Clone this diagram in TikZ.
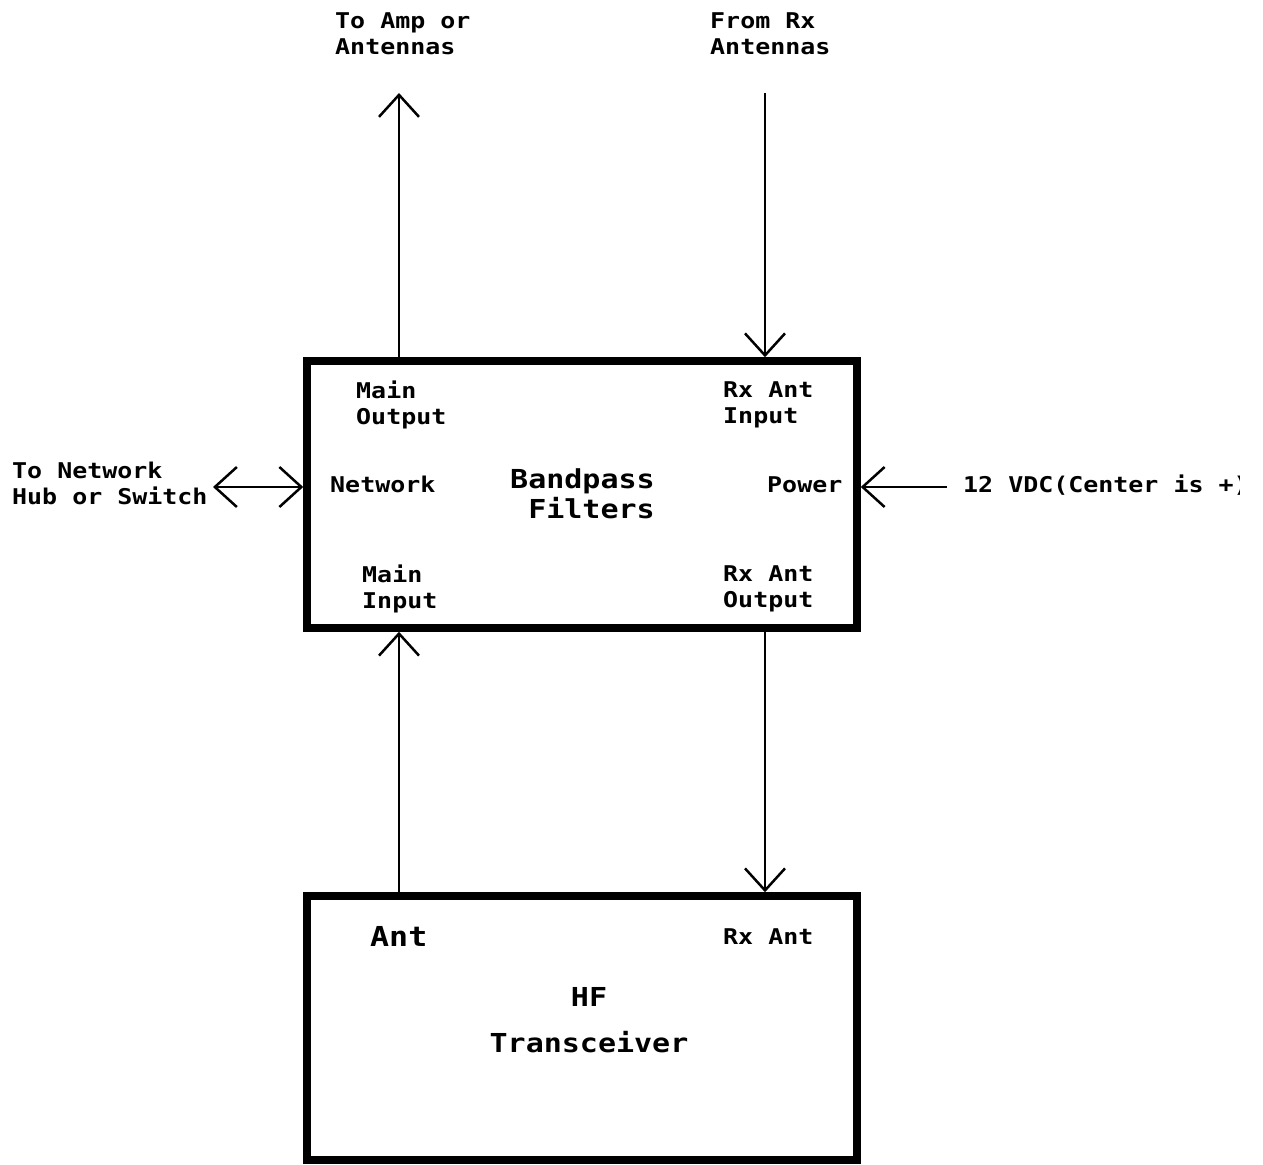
\documentclass[tikz,border=0pt]{standalone}
\usepackage{fontspec}
\usetikzlibrary{arrows.meta}
\newfontfamily\lblfont[FakeStretch=1.15]{DejaVu Sans Mono}
\tikzset{
  box/.style={draw, line width=7.5pt, rectangle, inner sep=0pt},
  conn/.style={line width=2.5pt},
  tipa/.tip={Straight Barb[length=22pt,width=40pt]},
  lbl/.style={inner sep=0pt, align=left, font=\lblfont\bfseries\fontsize{21.7}{26}\selectfont},
  big/.style={inner sep=0pt, font=\lblfont\bfseries\fontsize{26.1}{30}\selectfont},
  huge/.style={inner sep=0pt, font=\lblfont\bfseries\fontsize{27.5}{32}\selectfont},
}
\begin{document}
\begin{tikzpicture}[x=1pt,y=-1pt]
\useasboundingbox (0,0) rectangle (1263,1164);
% boxes
\node[box, minimum width=550pt, minimum height=267pt] (bpf) at (582,494.5) {};
\node[box, minimum width=550pt, minimum height=264pt] (xcvr) at (582,1028) {};
% free ends
\coordinate (ampEnd) at (399,93);
\coordinate (rxEnd) at (765,93);
\coordinate (netEnd) at (213,487);
\coordinate (pwrEnd) at (947,487);
% connectors
\draw[conn,-{tipa}] (ampEnd |- bpf.north) -- (ampEnd);
\draw[conn,-{tipa}] (rxEnd) -- (rxEnd |- bpf.north);
\draw[conn,-{tipa}] (ampEnd |- xcvr.north) -- (ampEnd |- bpf.south);
\draw[conn,-{tipa}] (rxEnd |- bpf.south) -- (rxEnd |- xcvr.north);
\draw[conn,{tipa}-{tipa}] (netEnd) -- (bpf.west |- netEnd);
\draw[conn,-{tipa}] (pwrEnd) -- (bpf.east |- pwrEnd);
% outer labels
\node[lbl, anchor=north west] (ampLbl) at (335,12) {To Amp or\\Antennas};
\node[lbl, anchor=north west] (rxLbl) at (710,12) {From Rx\\Antennas};
\node[lbl, anchor=north west] (netLbl) at (12,462) {To Network\\Hub or Switch};
\begin{scope}
\clip (0,0) rectangle (1239,1164);
\node[lbl, anchor=base west] (vdcLbl) at (963,492) {12 VDC(Center is +)};
\end{scope}
% bandpass box labels
\node[lbl, anchor=north west] (mainOut) at (356,381) {Main\\Output};
\node[lbl, anchor=north west] (rxIn) at (723,381) {Rx Ant\\Input};
\node[lbl, anchor=base west] (netIn) at (330,492) {Network};
\node[lbl, anchor=base west] (pwrIn) at (767,492) {Power};
\node[lbl, anchor=north west] (mainIn) at (362,565) {Main\\Input};
\node[lbl, anchor=north west] (rxOut) at (723,565) {Rx Ant\\Output};
\node[big, anchor=north west, align=right] (bpfLbl) at (510,468) {Bandpass\\Filters};
% transceiver labels
\node[huge, anchor=base west] (antLbl) at (370,946) {Ant};
\node[lbl, anchor=base west] (rxAntLbl) at (723,944) {Rx Ant};
\node[big, anchor=north, align=center, font=\lblfont\bfseries\fontsize{26.1}{46}\selectfont] (xcvrLbl) at (589,987) {HF\\Transceiver};
\end{tikzpicture}
\end{document}
